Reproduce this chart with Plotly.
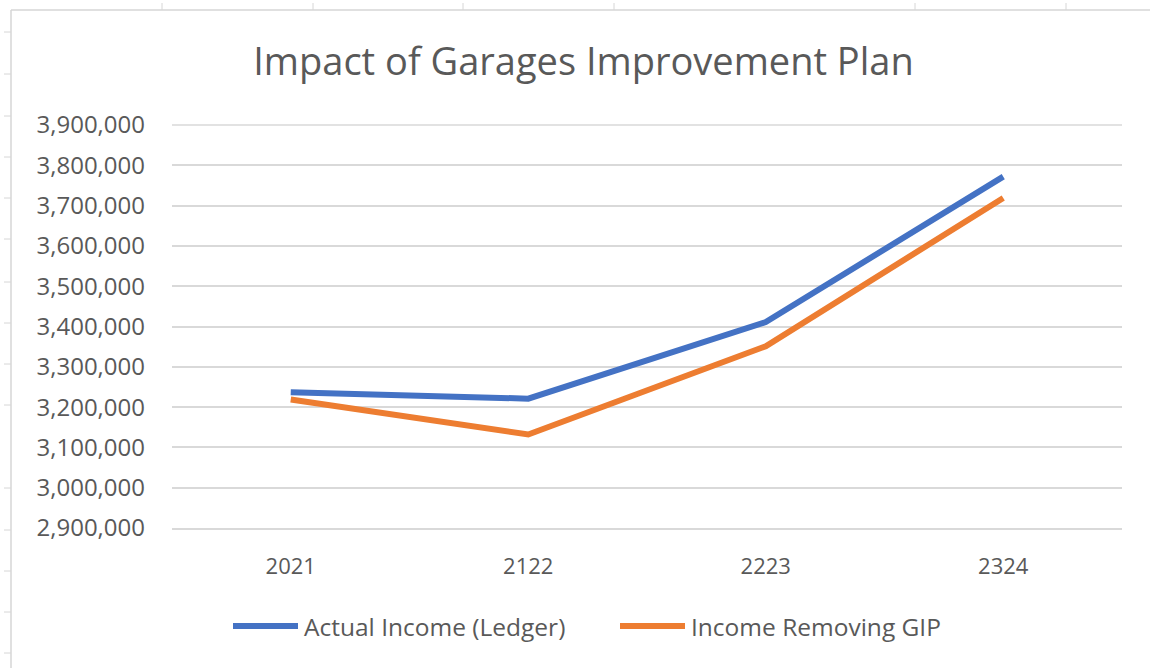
import plotly.graph_objects as go

# ---- data ----
categories = ["2021", "2122", "2223", "2324"]
actual_income = [3237000, 3221000, 3411000, 3772000]
income_removing_gip = [3219000, 3132000, 3351000, 3719000]
series_names = ["Actual Income (Ledger)", "Income Removing GIP"]
series_colors = ["#4472C4", "#ED7D31"]
y_ticks = list(range(2900000, 3900001, 100000))

W, H = 1150, 668
ML, MR, MT, MB = 172, 28, 125, 140
PW, PH = W - ML - MR, H - MT - MB

def px(x):
    return (x - ML) / PW

def py(y):
    return (H - MB - y) / PH

FONT = "Open Sans"
TXT = "#595959"
GRID = "#D9D9D9"
fig = go.Figure()
for name, vals, col in zip(series_names, [actual_income, income_removing_gip], series_colors):
    fig.add_trace(go.Scatter(x=categories, y=vals, mode="lines", name=name,
                             line=dict(color=col, width=6), showlegend=False))

# spreadsheet background cell lines (decoration)
shapes = []
sc = "#D6D6D6"
shapes.append(dict(type="line", xref="paper", yref="paper", x0=px(11), x1=px(W), y0=py(10), y1=py(10),
                   line=dict(color=sc, width=1.5)))
shapes.append(dict(type="line", xref="paper", yref="paper", x0=px(11), x1=px(11), y0=py(10), y1=py(H),
                   line=dict(color=sc, width=1.5)))
for tx in [162, 313, 463, 614, 915, 1066]:
    shapes.append(dict(type="line", xref="paper", yref="paper", x0=px(tx), x1=px(tx), y0=py(3), y1=py(10),
                       line=dict(color=sc, width=1)))
for ty in [32, 74, 116, 157, 198, 239, 282, 323, 364, 405, 488, 530, 571, 612, 653]:
    shapes.append(dict(type="line", xref="paper", yref="paper", x0=px(4), x1=px(11), y0=py(ty), y1=py(ty),
                       line=dict(color=sc, width=1)))

# top gridline at plot edge (Plotly clips gridlines at the range ends)
shapes.append(dict(type="line", xref="paper", yref="paper", x0=0, x1=1, y0=1, y1=1,
                   line=dict(color=GRID, width=1.5), layer="below"))

# custom legend (Excel-style long line samples)
annotations = []
legend_y = 626
for name, col, (lx0, lx1) in zip(series_names, series_colors, [(233, 298), (620, 685)]):
    shapes.append(dict(type="line", xref="paper", yref="paper", x0=px(lx0), x1=px(lx1),
                       y0=py(legend_y), y1=py(legend_y), line=dict(color=col, width=6)))
    annotations.append(dict(text=name, xref="paper", yref="paper", x=px(lx1 + 4), y=py(legend_y),
                            xanchor="left", yanchor="middle", showarrow=False,
                            font=dict(family=FONT, size=24.5, color=TXT)))

fig.update_layout(
    width=W, height=H, autosize=False,
    margin=dict(l=ML, r=MR, t=MT, b=MB),
    paper_bgcolor="white", plot_bgcolor="white",
    font=dict(family=FONT, color=TXT),
    title=dict(text="Impact of Garages Improvement Plan", x=583.5 / W, xref="container", xanchor="center",
               y=1 - 62 / H, yref="container", yanchor="middle",
               font=dict(family=FONT, size=38, color=TXT)),
    xaxis=dict(type="category", range=[-0.5, 3.5], showgrid=False, zeroline=False, showline=True,
               linecolor=GRID, linewidth=1.5, ticks="", tickfont=dict(size=22, color=TXT),
               ticklabelstandoff=18),
    yaxis=dict(range=[2900000, 3900000], tickvals=y_ticks, tickformat=",d", showgrid=True,
               gridcolor=GRID, gridwidth=1.5, zeroline=False, showline=False, ticks="",
               tickfont=dict(size=24, color=TXT), ticklabelstandoff=26),
    shapes=shapes,
    annotations=annotations,
    showlegend=False,
)
fig.write_html("out.html", post_script="document.body.style.margin='0px';",
               config={"displayModeBar": False})
